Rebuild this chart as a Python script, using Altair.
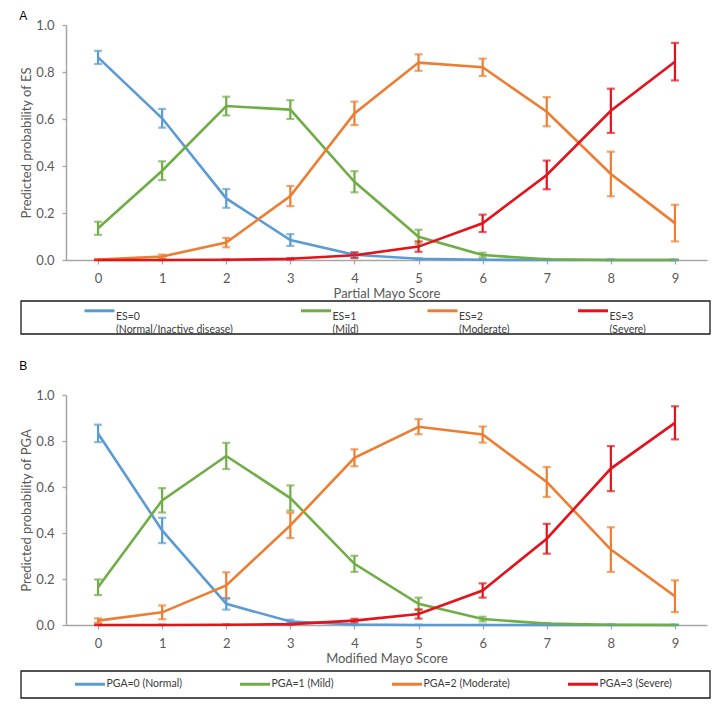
import altair as alt
import pandas as pd

FONT = "Lato"
COLORS = ["#5B9BD5", "#70AD47", "#ED7D31", "#E3121B"]

scores = list(range(10))
y_ticks = [0.0, 0.2, 0.4, 0.6, 0.8, 1.0]

# ---- Panel A: Endoscopic subscore (ES) vs Partial Mayo Score
es_names = ["ES=0|(Normal/Inactive disease)", "ES=1|(Mild)", "ES=2|(Moderate)", "ES=3|(Severe)"]
es0 = [0.862, 0.603, 0.262, 0.085, 0.022, 0.005, 0.001, 0.000, 0.000, 0.000]
es0_err = [0.028, 0.040, 0.040, 0.025, 0.010, 0.003, 0.002, 0.001, 0.001, 0.001]
es1 = [0.135, 0.380, 0.655, 0.640, 0.333, 0.099, 0.021, 0.003, 0.000, 0.000]
es1_err = [0.028, 0.040, 0.040, 0.040, 0.045, 0.030, 0.010, 0.002, 0.001, 0.001]
es2 = [0.002, 0.015, 0.074, 0.272, 0.624, 0.840, 0.820, 0.631, 0.366, 0.157]
es2_err = [0.002, 0.008, 0.020, 0.043, 0.050, 0.035, 0.037, 0.062, 0.095, 0.078]
es3 = [0.000, 0.000, 0.001, 0.005, 0.020, 0.057, 0.156, 0.362, 0.635, 0.844]
es3_err = [0.001, 0.001, 0.001, 0.003, 0.012, 0.022, 0.037, 0.061, 0.094, 0.080]

# ---- Panel B: Physician global assessment (PGA) vs Modified Mayo Score
pga_names = ["PGA=0 (Normal)", "PGA=1 (Mild)", "PGA=2 (Moderate)", "PGA=3 (Severe)"]
pga0 = [0.833, 0.411, 0.092, 0.015, 0.002, 0.000, 0.000, 0.000, 0.000, 0.000]
pga0_err = [0.038, 0.055, 0.025, 0.008, 0.002, 0.001, 0.001, 0.001, 0.001, 0.001]
pga1 = [0.164, 0.542, 0.735, 0.552, 0.266, 0.092, 0.026, 0.006, 0.001, 0.000]
pga1_err = [0.034, 0.053, 0.057, 0.055, 0.035, 0.027, 0.010, 0.003, 0.001, 0.001]
pga2 = [0.019, 0.055, 0.172, 0.433, 0.727, 0.862, 0.828, 0.622, 0.328, 0.125]
pga2_err = [0.010, 0.030, 0.057, 0.055, 0.037, 0.033, 0.035, 0.065, 0.097, 0.069]
pga3 = [0.000, 0.000, 0.001, 0.004, 0.019, 0.048, 0.150, 0.375, 0.680, 0.879]
pga3_err = [0.001, 0.001, 0.001, 0.002, 0.008, 0.020, 0.031, 0.065, 0.098, 0.072]


def make_panel(letter, names, series, errs, xtitle, ytitle, h, box_top, box_bottom,
               leg_x, leg_y, col_pad, multiline, title_offset):
    rows = []
    for name, vals, er in zip(names, series, errs):
        for s, v, e in zip(scores, vals, er):
            rows.append({"score": s, "series": name, "p": v,
                         "lo": max(v - e, 0.0), "hi": min(v + e, 1.0)})
    df = pd.DataFrame(rows)
    base = alt.Chart(df)

    x = alt.X("score:O", scale=alt.Scale(type="point", padding=0.5),
              axis=alt.Axis(title=xtitle, labelAngle=0, labelPadding=8, titlePadding=2))

    def yenc(field):
        return alt.Y(field, scale=alt.Scale(domain=[0, 1]),
                     axis=alt.Axis(title=ytitle, values=y_ticks, format=".1f",
                                   labelPadding=8, titlePadding=2))

    legend_kwargs = dict(orient="none", legendX=leg_x, legendY=leg_y, direction="horizontal",
                         columns=4, title=None, symbolType="stroke", symbolSize=900,
                         symbolStrokeWidth=3, symbolOpacity=1, labelFont=FONT, labelFontSize=10.5,
                         labelColor="#3a3a3a", columnPadding=col_pad, labelOffset=0,
                         padding=0, labelLimit=300)
    if multiline:
        # two-line labels: the symbol is raised to sit beside the first line
        legend_kwargs["labelExpr"] = "split(datum.label, '|')"
        legend_kwargs["labelBaseline"] = "middle"
        legend_kwargs["symbolType"] = "M-1,-0.43H1"
    color = alt.Color("series:N", scale=alt.Scale(domain=names, range=COLORS),
                      legend=alt.Legend(**legend_kwargs))

    box = alt.Chart(pd.DataFrame({"frame": [0]})).mark_rect(
        fill="transparent", stroke="#1a1a1a", strokeWidth=1.3
    ).encode(x=alt.value(-45), x2=alt.value(644), y=alt.value(box_top), y2=alt.value(box_bottom))

    lines = base.mark_line(strokeWidth=2.6).encode(x=x, y=yenc("p:Q"), color=color)
    bars = base.mark_rule(strokeWidth=2.2).encode(x=x, y=yenc("lo:Q"), y2="hi:Q", color=color)
    caps_lo = base.mark_tick(orient="horizontal", size=8, thickness=2.2).encode(
        x=x, y=yenc("lo:Q"), color=color)
    caps_hi = base.mark_tick(orient="horizontal", size=8, thickness=2.2).encode(
        x=x, y=yenc("hi:Q"), color=color)

    return alt.layer(box, lines, bars, caps_lo, caps_hi).properties(
        width=641, height=h,
        title=alt.TitleParams(letter, anchor="start", frame="bounds", font="Liberation Sans",
                              fontSize=12, fontWeight="normal", color="black",
                              offset=title_offset, dx=-1),
    )


chart_a = make_panel("A", es_names, [es0, es1, es2, es3], [es0_err, es1_err, es2_err, es3_err],
                     "Partial Mayo Score", "Predicted probability of ES", 235, 276, 309,
                     17, 275.5, 61.5, True, -4)
chart_b = make_panel("B", pga_names, [pga0, pga1, pga2, pga3], [pga0_err, pga1_err, pga2_err, pga3_err],
                     "Modified Mayo Score", "Predicted probability of PGA", 230, 276, 303,
                     7.5, 272.5, 51, False, 16)

chart = alt.vconcat(chart_a, chart_b, spacing=24).resolve_scale(
    color="independent", x="independent", y="independent"
).properties(
    padding={"left": 11, "top": 2, "right": 4, "bottom": 0}
).configure_view(stroke=None).configure_axis(
    grid=False, domainColor="#A6A6A6", domainWidth=1.5, tickColor="#A6A6A6", tickWidth=1.3,
    tickSize=4, labelColor="#595959", labelFont=FONT, labelFontSize=13,
    titleColor="#595959", titleFont=FONT, titleFontSize=13, titleFontWeight="normal",
)

chart.save("out.html", embed_options={"renderer": "svg", "actions": False})
